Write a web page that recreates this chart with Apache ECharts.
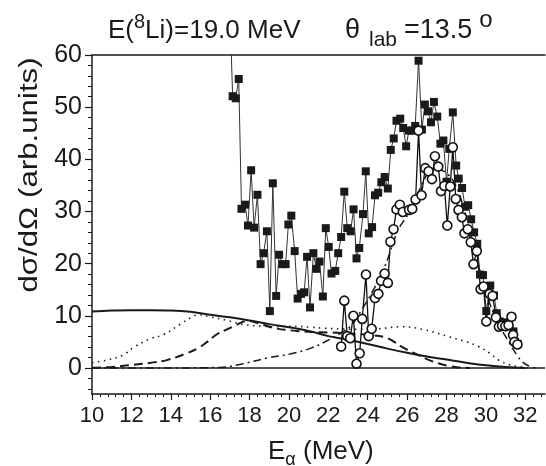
<!DOCTYPE html>
<html>
<head>
<meta charset="utf-8">
<script src="https://cdn.jsdelivr.net/npm/echarts@6/dist/echarts.min.js"></script>
<style>html,body{margin:0;padding:0;background:#fff}#c{width:546px;height:466px}</style>
</head>
<body>
<div id="c"></div>
<script>
// ---- data (E in MeV, value in arb. units) ----
const squareSeries = [[16.95,75],[17.14,52.1],[17.30,51.7],[17.45,55.4],[17.59,30.5],[17.77,31.3],[17.92,27.3],[18.08,37.9],[18.23,26.9],[18.40,33.2],[18.56,19.9],[18.71,22.0],[18.88,26.2],[19.03,10.9],[19.18,35.4],[19.35,13.8],[19.50,21.7],[19.66,19.9],[19.83,19.9],[19.97,27.5],[20.12,29.2],[20.29,22.4],[20.44,13.3],[20.61,14.2],[20.77,14.5],[20.92,21.3],[21.07,11.6],[21.24,22.0],[21.39,19.0],[21.55,20.4],[21.72,13.7],[21.87,26.8],[22.02,23.2],[22.16,18.1],[22.35,18.6],[22.50,22.0],[22.65,25.1],[22.81,33.8],[22.96,26.8],[23.13,26.2],[23.28,30.4],[23.43,21.0],[23.57,23.0],[23.76,29.5],[23.90,37.7],[24.05,25.8],[24.22,27.0],[24.37,33.1],[24.53,33.6],[24.69,35.6],[24.86,36.6],[25.02,34.4],[25.17,41.8],[25.32,44.0],[25.46,47.4],[25.65,47.8],[25.80,46.0],[25.95,42.5],[26.09,45.5],[26.26,45.5],[26.41,46.4],[26.58,58.9],[26.75,45.7],[26.90,50.5],[27.06,49.2],[27.21,47.1],[27.36,51.0],[27.53,48.2],[27.69,43.0],[27.84,43.6],[28.00,35.7],[28.14,42.0],[28.32,49.0],[28.49,38.8],[28.62,36.3],[28.79,34.5],[28.94,30.9],[29.10,31.2],[29.25,28.5],[29.40,26.0],[29.56,23.8],[29.70,17.9],[29.85,17.8],[30.02,10.9],[30.22,15.8],[30.41,13.9],[30.55,10.5],[30.70,8.9],[30.85,8.7],[31.00,8.6],[31.15,8.7],[31.30,9.8],[31.40,7.0],[31.48,5.0],[31.62,4.6]];

const circleSeries = [[22.65,4.1],[22.81,12.9],[22.96,6.1],[23.11,5.7],[23.27,10.0],[23.43,0.8],[23.59,2.8],[23.72,9.4],[23.91,17.9],[24.05,6.1],[24.20,7.5],[24.37,13.4],[24.54,14.2],[24.68,16.7],[24.86,18.1],[25.02,16.3],[25.15,24.2],[25.31,26.6],[25.46,30.4],[25.63,31.3],[25.78,29.9],[26.10,30.3],[26.26,30.5],[26.43,32.3],[26.58,45.5],[26.73,33.1],[26.92,38.3],[27.09,37.7],[27.26,36.2],[27.41,40.6],[27.58,38.6],[27.72,33.9],[27.89,34.9],[28.04,27.3],[28.19,34.8],[28.32,42.3],[28.47,32.4],[28.61,30.3],[28.78,28.9],[28.91,25.8],[29.08,26.6],[29.23,24.1],[29.37,19.9],[29.54,22.4],[29.73,15.1],[29.88,15.6],[30.02,8.9],[30.19,14.2],[30.34,13.8],[30.51,9.7],[30.66,7.9],[30.82,8.1],[30.99,8.0],[31.15,8.2],[31.30,9.8],[31.38,6.3],[31.45,5.0],[31.60,4.5]];

const solidCurve = [[10.0,10.8],[11.0,11.0],[12.0,11.05],[13.0,11.05],[14.0,11.0],[15.0,10.75],[16.0,10.2],[17.0,9.7],[18.0,9.1],[19.0,8.4],[20.0,7.8],[21.0,7.1],[22.0,6.1],[23.0,5.4],[24.0,4.6],[25.0,3.7],[26.0,2.9],[27.0,2.2],[28.0,1.6],[29.0,1.0],[30.0,0.5],[31.0,0.2],[32.0,0.0]];

const dottedCurve = [[10.0,1.0],[10.75,1.5],[11.6,2.5],[12.1,3.9],[12.96,5.6],[13.64,6.4],[14.49,8.4],[15.0,9.6],[15.42,10.2],[16.0,9.8],[16.87,9.1],[17.72,8.3],[18.6,8.0],[19.25,7.9],[20.1,8.0],[21.12,7.8],[21.8,7.6],[22.6,7.5],[23.5,7.4],[24.5,7.5],[25.7,7.9],[26.9,7.3],[28.1,6.0],[29.0,5.0],[29.63,4.1],[30.2,2.8],[30.65,1.5],[31.2,0.6],[31.7,0.25],[32.2,0.0]];

const dashedCurve = [[10.0,0.05],[11.0,0.2],[12.1,0.6],[13.0,1.0],[13.8,1.5],[14.8,2.8],[15.4,3.8],[15.85,5.0],[16.36,6.5],[16.8,7.3],[17.2,8.0],[17.89,9.0],[18.57,8.4],[19.3,7.6],[20.1,7.2],[21.12,6.9],[22.0,6.8],[22.65,6.7],[23.5,6.5],[24.18,6.3],[24.86,5.9],[25.3,5.1],[25.71,4.1],[26.1,3.3],[26.56,2.5],[27.0,1.7],[27.58,0.9],[28.1,0.4],[28.6,0.1],[29.2,0.0]];

const dashDotCurve = [[10.0,0.0],[14.0,0.0],[16.5,0.1],[17.55,0.7],[18.9,1.9],[20.1,2.7],[21.12,3.8],[22.14,5.6],[22.65,6.7],[23.2,8.3],[23.67,11.0],[24.35,15.4],[24.86,19.4],[25.3,24.0],[25.54,26.5],[26.05,29.5],[26.56,33.6],[27.07,37.4],[27.4,38.2],[27.76,37.9],[28.1,37.0],[28.44,35.2],[28.8,31.6],[29.12,27.1],[29.5,21.7],[29.8,17.0],[30.2,12.3],[30.65,8.4],[31.16,5.0],[31.58,2.4],[31.9,1.0],[32.3,0.2],[32.6,0.0]];

const xTickLabels = [10,12,14,16,18,20,22,24,26,28,30,32];
const yTickLabels = [0,10,20,30,40,50,60];
const xMinorTicks = [];
for (let k = 0; k < 58; k++) { const v = Math.round((10 + 0.4 * k) * 10) / 10; if (v <= 33 && !xTickLabels.includes(v)) xMinorTicks.push(v); }
const yMinorTicks = [];
for (let v = -4; v <= 58; v += 2) { if (!yTickLabels.includes(v)) yMinorTicks.push(v); }

// ---- chart ----
const FONT = '"Liberation Sans", Arial, Helvetica, sans-serif';
const INK = '#1a1a1a';
const mctx = document.createElement('canvas').getContext('2d');
function tw(t, size) { mctx.font = size + 'px ' + FONT; return mctx.measureText(t).width; }

function txt(t, x, y, size) {
  return {type: 'text', x: x, y: y, silent: true,
    style: {text: t, fill: INK, fontFamily: FONT, fontSize: size, font: size + 'px ' + FONT,
            align: 'left', verticalAlign: 'top', textAlign: 'left', textVerticalAlign: 'top'}};
}

// title pieces
const t1x = 108, tMainY = 18;
const x1b = t1x + tw('E(', 26), x1c = x1b + tw('8', 20);
const t2x = 345, x2b = 369, x2c = 404;
const x2d = x2c + tw('=13.5', 27) + 7;
const xnA = 268, xnB = xnA + tw('E', 26), xnC = xnB + tw('α', 18);

const chart = echarts.init(document.getElementById('c'), null, {renderer: 'canvas'});
const gridRect = {left: 92, right: 1, top: 55, bottom: 72, containLabel: false};

chart.setOption({
  animation: false,
  backgroundColor: '#fff',
  grid: [Object.assign({}, gridRect), Object.assign({}, gridRect)],
  xAxis: [
    {type: 'value', gridIndex: 0, min: 10, max: 33, position: 'bottom',
     axisLine: {show: true, onZero: false, lineStyle: {color: INK, width: 1.5}},
     axisTick: {show: true, customValues: xTickLabels, length: 6, lineStyle: {color: INK, width: 1.2}},
     axisLabel: {show: true, customValues: xTickLabels, fontSize: 22, fontFamily: FONT, color: INK, margin: 11},
     splitLine: {show: false}},
    {type: 'value', gridIndex: 0, min: 10, max: 33, position: 'top',
     axisLine: {show: true, onZero: false, lineStyle: {color: INK, width: 1.5}},
     axisTick: {show: false}, axisLabel: {show: false}, splitLine: {show: false}},
    {type: 'value', gridIndex: 1, min: 10, max: 33, position: 'bottom',
     axisLine: {show: false, onZero: false},
     axisTick: {show: true, customValues: xMinorTicks, length: 3, lineStyle: {color: INK, width: 1}},
     axisLabel: {show: false}, splitLine: {show: false}}
  ],
  yAxis: [
    {type: 'value', gridIndex: 0, min: -5, max: 60, position: 'left',
     axisLine: {show: true, onZero: false, lineStyle: {color: INK, width: 1.5}},
     axisTick: {show: true, customValues: yTickLabels, length: 7, lineStyle: {color: INK, width: 1.2}},
     axisLabel: {show: true, customValues: yTickLabels, fontSize: 25, fontFamily: FONT, color: INK, margin: 10},
     splitLine: {show: false}},
    {type: 'value', gridIndex: 1, min: -5, max: 60, position: 'left',
     axisLine: {show: false, onZero: false},
     axisTick: {show: true, customValues: yMinorTicks, length: 4, lineStyle: {color: INK, width: 1}},
     axisLabel: {show: false}, splitLine: {show: false}}
  ],
  series: [
    {name: 'total', type: 'line', xAxisIndex: 0, yAxisIndex: 0, data: solidCurve, symbol: 'none', smooth: 0.4,
     lineStyle: {color: INK, width: 2, type: 'solid'},
     markLine: {silent: true, symbol: ['none', 'none'], label: {show: false},
       lineStyle: {color: INK, width: 1.5, type: 'solid'}, data: [{yAxis: 0}]}},
    {name: 'dotted', type: 'line', data: dottedCurve, symbol: 'none', smooth: 0.4,
     lineStyle: {color: INK, width: 1.6, type: [1.5, 4.5]}},
    {name: 'dashed', type: 'line', data: dashedCurve, symbol: 'none', smooth: 0.4,
     lineStyle: {color: INK, width: 2, type: [9, 5]}},
    {name: 'dashdot', type: 'line', data: dashDotCurve, symbol: 'none', smooth: 0.4,
     lineStyle: {color: INK, width: 1.5, type: [8, 4, 2, 4]}},
    {name: 'squares', type: 'line', data: squareSeries, symbol: 'rect', symbolSize: 8,
     showSymbol: true, showAllSymbol: true, clip: true,
     itemStyle: {color: INK}, lineStyle: {color: '#333', width: 1}},
    {name: 'circles', type: 'line', data: circleSeries, symbol: 'circle', symbolSize: 9,
     showSymbol: true, showAllSymbol: true, clip: true,
     itemStyle: {color: '#fff', borderColor: '#111', borderWidth: 1.6}, lineStyle: {color: '#111', width: 1.3}}
  ],
  graphic: [
    txt('E(', t1x, tMainY, 26), txt('8', x1b, 12.5, 20), txt('Li)=19.0 MeV', x1c, tMainY, 26),
    txt('θ', t2x, 17.5, 27), txt('lab', x2b, 30, 21), txt('=13.5', x2c, 17.5, 27), txt('o', x2d, 8, 24),
    txt('E', xnA, 439, 26), txt('α', xnB, 451, 18), txt(' (MeV)', xnC, 439, 26),
    {type: 'text', x: 30, y: 175, rotation: Math.PI / 2, scaleX: 1.2, silent: true, style: {
      text: 'dσ/dΩ (arb.units)', fill: INK, fontFamily: FONT, fontSize: 26, font: '26px ' + FONT,
      align: 'center', verticalAlign: 'middle', textAlign: 'center', textVerticalAlign: 'middle'}}
  ]
});
</script>
</body>
</html>
